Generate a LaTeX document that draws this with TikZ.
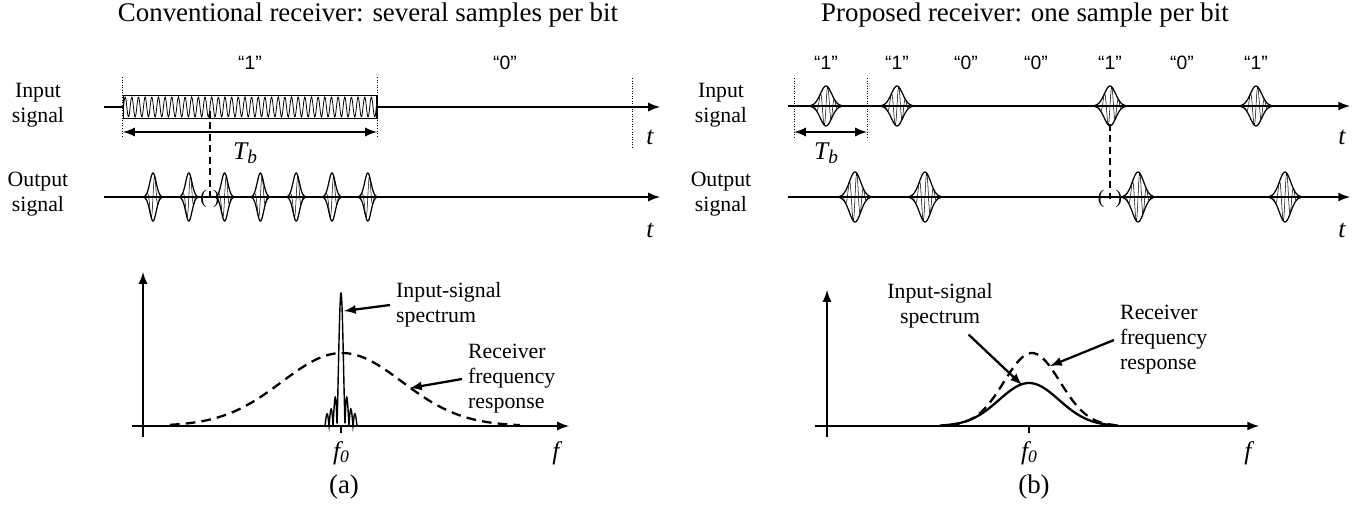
\documentclass[tikz,border=0pt]{standalone}
\usepackage{fontspec}
\setmainfont{Liberation Serif}
\newfontfamily\bitfont{Liberation Sans}
\usepackage{tikz}
\usetikzlibrary{arrows}

% wave packet: centre x, axis y, half width, height, carrier phase factor
\newcommand\wavepacket[5]{%
  \draw[line width=0.7pt] plot[domain=-1:1, samples=40, smooth] ({#1+#3*\x}, {#2-#4*exp(-4*\x*\x)});
  \draw[line width=0.7pt] plot[domain=-1:1, samples=40, smooth] ({#1+#3*\x}, {#2+#4*exp(-4*\x*\x)});
  \draw[line width=0.3pt] plot[domain=-1:1, samples=120] ({#1+#3*\x}, {#2-#4*exp(-4*\x*\x)*sin(#5*\x+100*\x*\x)});
}

\begin{document}
\begin{tikzpicture}[x=0.02cm, y=-0.02cm, >=latex,
    every node/.style={align=center, font=\fontsize{12.4}{14.2}\selectfont},
    axis/.style={->, line width=1.3pt},
    bitmark/.style={densely dotted, line width=0.45pt},
    sample/.style={dash pattern=on 4pt off 2.5pt, line width=1.5pt},
    response/.style={dash pattern=on 5.5pt off 3.5pt, line width=1.3pt},
    pointer/.style={->, line width=1.3pt},
    varfont/.style={font=\fontsize{14.5}{16}\selectfont\itshape},
    bitlabel/.style={font=\bitfont\fontsize{11}{13}\selectfont},
    headfont/.style={font=\fontsize{15.3}{18}\selectfont}]
    \useasboundingbox (0,0) rectangle (1364,507);

    % (a) conventional receiver
    \node (titleA) [headfont] at (368,15) {Conventional receiver: several samples per bit};
    \node (inLblA) at (38,105) {Input\\signal};
    \node (outLblA) at (38,194) {Output\\signal};
    \coordinate (inStartA) at (104,107);
    \coordinate (inEndA) at (660,107);
    \coordinate (outStartA) at (104,197);
    \coordinate (outEndA) at (660,197);
    \draw[axis] (inStartA) -- (inEndA);
    \draw[axis] (outStartA) -- (outEndA);
    \node (burstA) [draw, line width=0.6pt, fill=white, minimum width=5.08cm, minimum height=0.46cm, inner sep=0pt] at (250,107) {};
    \draw[line width=0.45pt] plot[domain=0:253, samples=480] ({123.5+\x}, {107-10*sin(\x*54.1)});
    \foreach \bx in {122,377} \draw[bitmark] (\bx,77) -- (\bx,138);
    \draw[bitmark] (632,78) -- (632,147);
    \coordinate (tbLeftA) at (123,132);
    \coordinate (tbRightA) at (377,132);
    \draw[<->, line width=1.3pt] (tbLeftA) -- (tbRightA);
    \node (tbLblA) [varfont] at (245,153) {T\raisebox{-0.35ex}{\fontsize{11}{11}\selectfont b}};
    \node (oneA) [bitlabel] at (250,63) {“1”};
    \node (zeroA) [bitlabel] at (505,63) {“0”};
    \node (tInA) [varfont] at (650,137) {t};
    \node (tOutA) [varfont] at (650,230) {t};
    \foreach \k in {0,...,6} \wavepacket{153+35.8*\k}{197}{9}{24}{420};
    \coordinate (sampleA) at (210,111);
    \node (gapA) [font=\fontsize{11}{11}\selectfont, inner sep=0pt] at (210,199) {(\hspace{3.6pt})};
    \draw[sample] (sampleA) -- (gapA.center);

    % (a) spectrum
    \coordinate (yBotA) at (143,437);
    \coordinate (yTopA) at (143,272);
    \coordinate (fStartA) at (132,426);
    \coordinate (fEndA) at (569,426);
    \draw[axis] (yBotA) -- (yTopA);
    \draw[axis] (fStartA) -- (fEndA);
    \draw[line width=0.8pt] (341,426) -- (341,433);
    \draw[response] plot[domain=170:520, samples=80, smooth] (\x, {426-73*exp(-((\x-342)/60)^2/2)});
    \draw[line width=0.8pt] plot[domain=-4:4, samples=160] ({341+4*\x}, {426-133*abs(sin(180*\x)/(pi*\x))});
    \node (specLblA) [anchor=west, align=left] at (390,305) {Input-signal\\spectrum};
    \coordinate (spikeA) at (344,311);
    \draw[pointer] (specLblA.west) -- (spikeA);
    \node (respLblA) [anchor=west, align=left] at (462,379) {Receiver\\frequency\\response};
    \coordinate (dashA) at (410,388);
    \draw[pointer] (respLblA.west) -- (dashA);
    \node (f0LblA) [varfont] at (341,453) {f\raisebox{-0.3ex}{\fontsize{10}{10}\selectfont 0}};
    \node (fLblA) [varfont] at (556,453) {f};
    \node (capA) [headfont] at (344,487) {(a)};

    % (b) proposed receiver
    \node (titleB) [headfont] at (1025,15) {Proposed receiver: one sample per bit};
    \node (inLblB) at (721,105) {Input\\signal};
    \node (outLblB) at (721,194) {Output\\signal};
    \coordinate (inStartB) at (788,106);
    \coordinate (inEndB) at (1350,106);
    \coordinate (outStartB) at (788,197);
    \coordinate (outEndB) at (1350,197);
    \draw[axis] (inStartB) -- (inEndB);
    \draw[axis] (outStartB) -- (outEndB);
    \foreach \bx in {794,867} \draw[bitmark] (\bx,78) -- (\bx,138);
    \coordinate (tbLeftB) at (794,132);
    \coordinate (tbRightB) at (867,132);
    \draw[<->, line width=1.3pt] (tbLeftB) -- (tbRightB);
    \node (tbLblB) [varfont] at (826,153) {T\raisebox{-0.35ex}{\fontsize{11}{11}\selectfont b}};
    \foreach \bx/\bv in {826/1, 897/1, 966/0, 1036/0, 1110/1, 1182/0, 1256/1}
        \node (bit\bx) [bitlabel] at (\bx,63) {“\bv”};
    \node (tInB) [varfont] at (1342,137) {t};
    \node (tOutB) [varfont] at (1342,230) {t};
    \foreach \px in {826,897,1110,1256} \wavepacket{\px}{106}{16}{20}{800};
    \foreach \px in {855,925,1138,1285} \wavepacket{\px}{197}{16}{25}{800};
    \coordinate (sampleB) at (1110,124);
    \node (gapB) [font=\fontsize{11}{11}\selectfont, inner sep=0pt] at (1110,199) {(\hspace{6.5pt})};
    \draw[sample] (sampleB) -- (gapB.center);

    % (b) spectrum
    \coordinate (yBotB) at (827,437);
    \coordinate (yTopB) at (827,290);
    \coordinate (fStartB) at (815,426);
    \coordinate (fEndB) at (1259,426);
    \draw[axis] (yBotB) -- (yTopB);
    \draw[axis] (fStartB) -- (fEndB);
    \draw[line width=0.8pt] (1029,426) -- (1029,433);
    \draw[response] plot[domain=950:1115, samples=60, smooth] (\x, {426-73*exp(-((\x-1032)/28)^2/2)});
    \draw[line width=1.3pt] plot[domain=940:1118, samples=60, smooth] (\x, {426-43*exp(-((\x-1029)/30)^2/2)});
    \node (specLblB) at (940,306) {Input-signal\\spectrum};
    \coordinate (solidB) at (1022,385);
    \draw[pointer] (specLblB.-45) -- (solidB);
    \node (respLblB) [anchor=west, align=left] at (1114,340) {Receiver\\frequency\\response};
    \coordinate (dashB) at (1050,366);
    \draw[pointer] (respLblB.west) -- (dashB);
    \node (f0LblB) [varfont] at (1029,453) {f\raisebox{-0.3ex}{\fontsize{10}{10}\selectfont 0}};
    \node (fLblB) [varfont] at (1248,453) {f};
    \node (capB) [headfont] at (1034,487) {(b)};
\end{tikzpicture}
\end{document}
